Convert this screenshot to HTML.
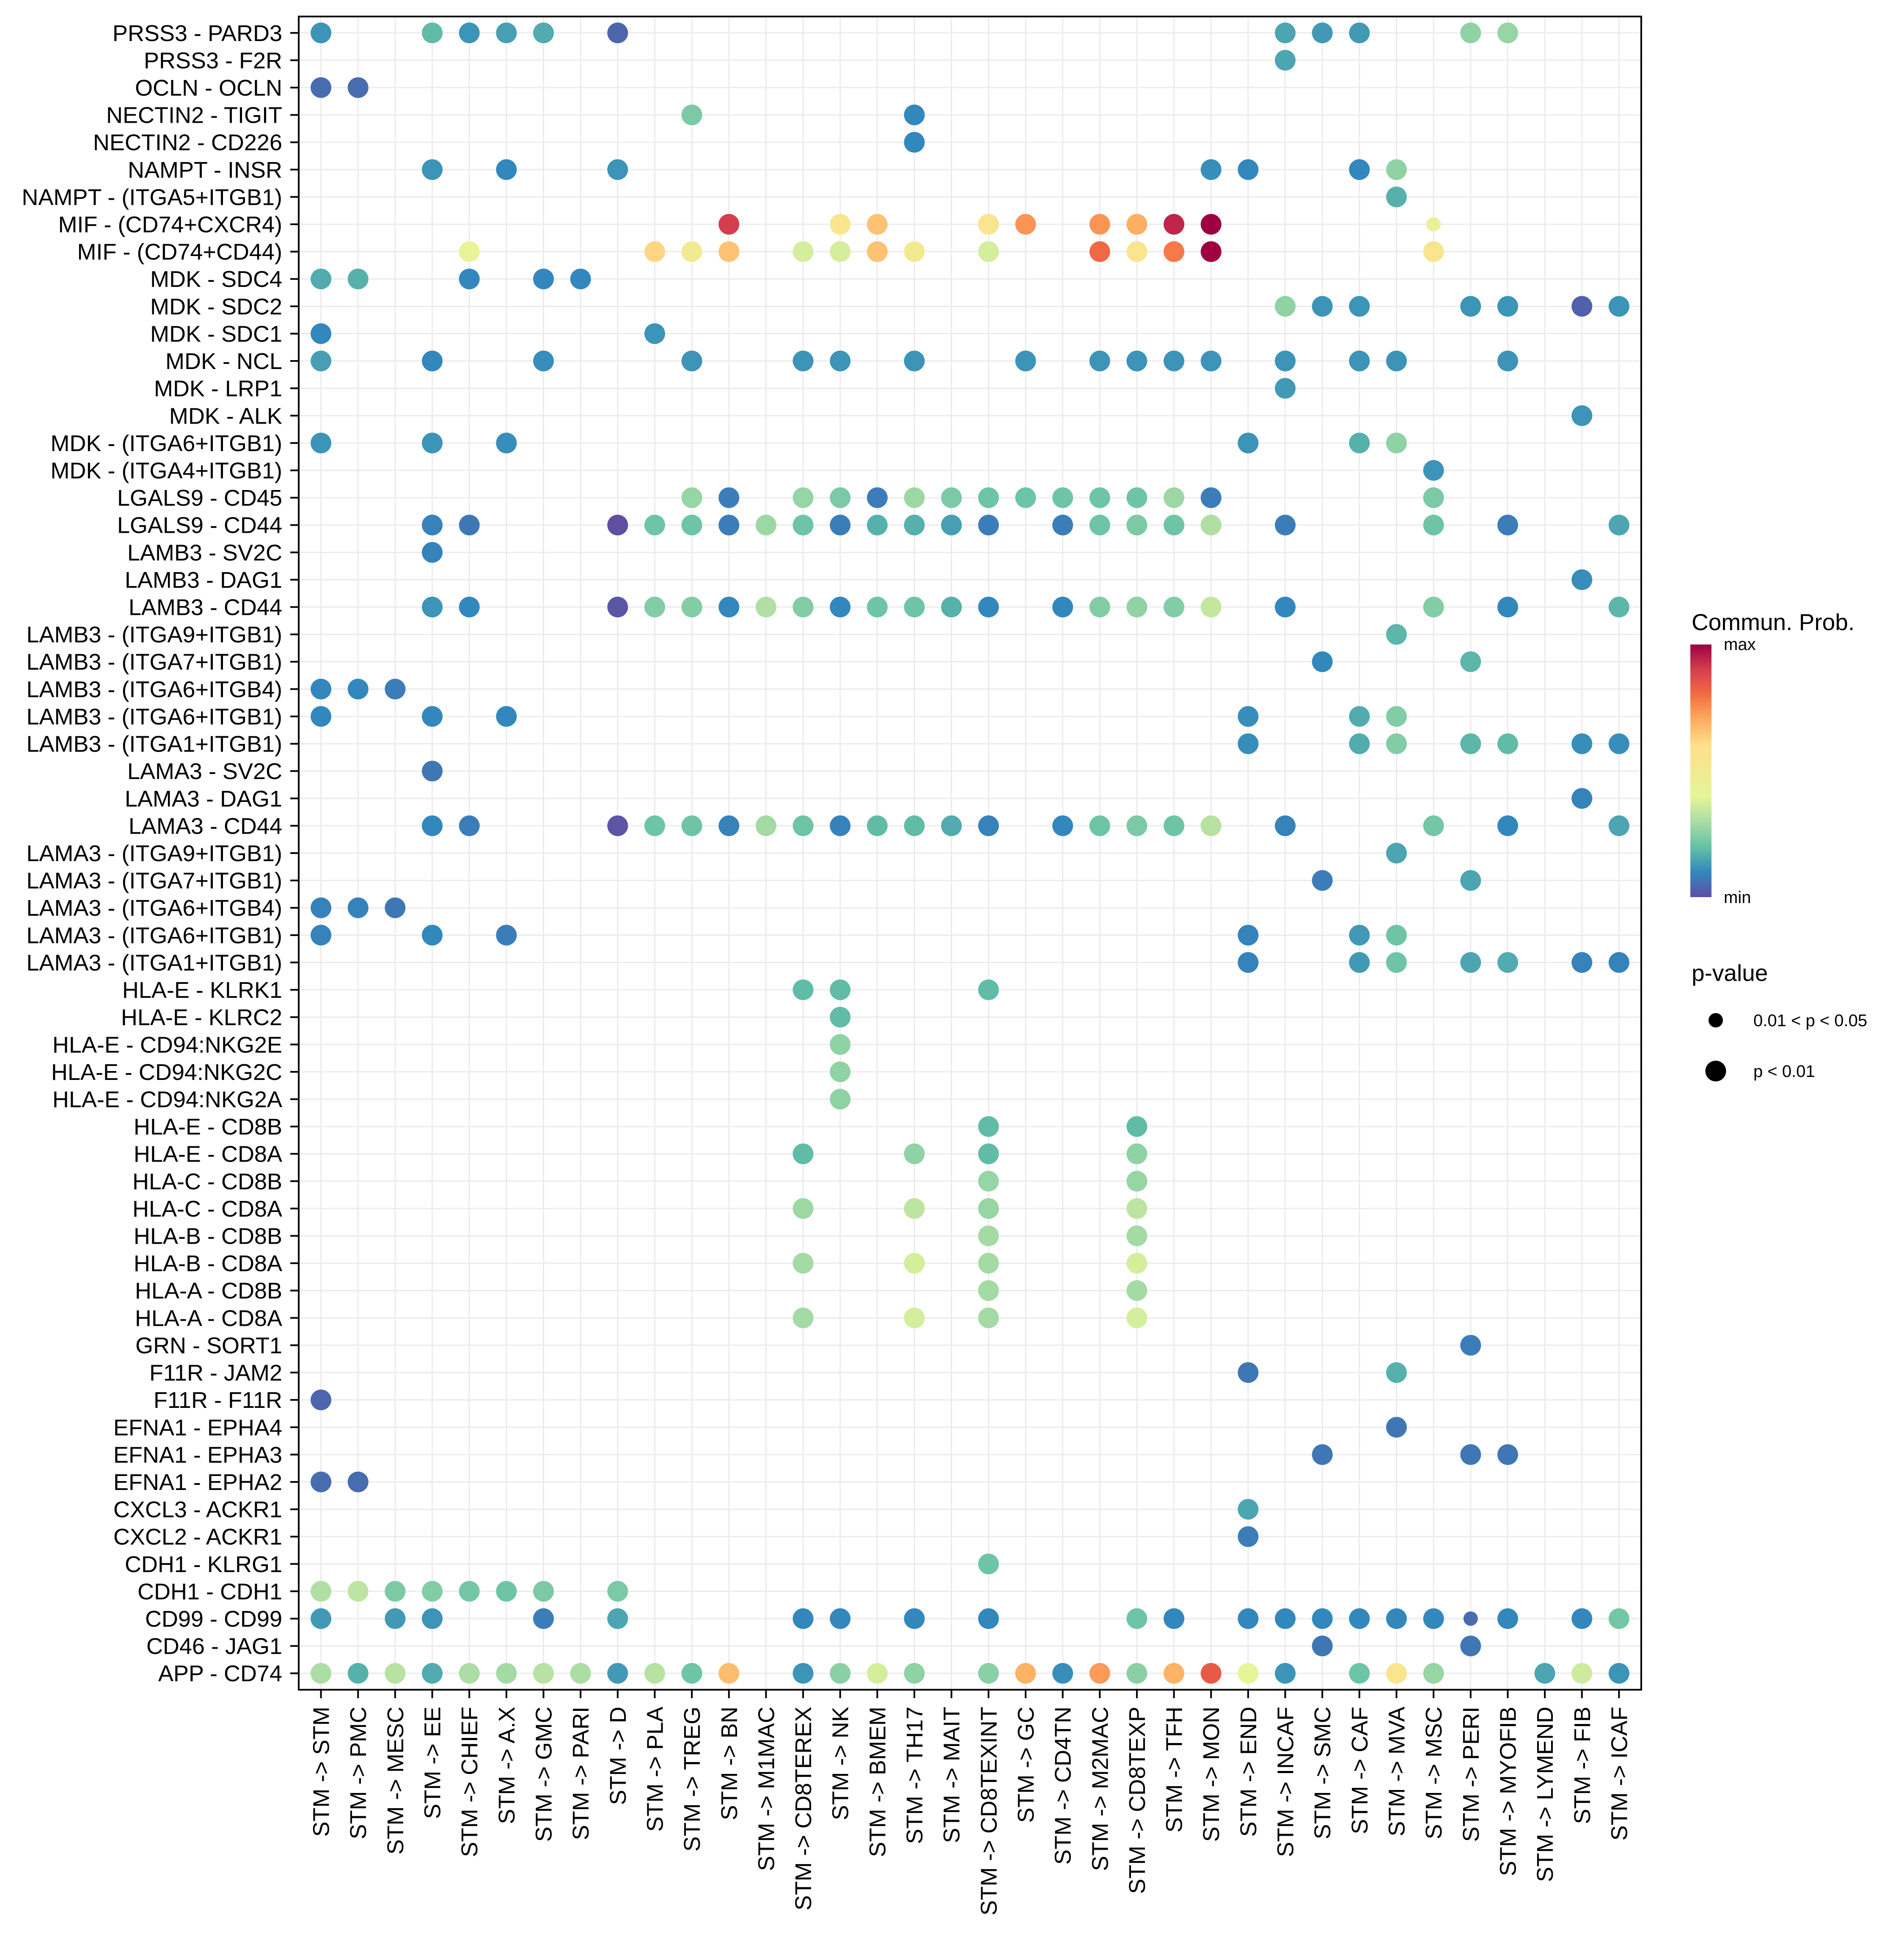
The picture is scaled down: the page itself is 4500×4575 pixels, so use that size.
<!DOCTYPE html>
<html><head><meta charset="utf-8">
<style>
html,body{margin:0;padding:0;background:#fff;}
svg{display:block;}
text{font-family:"Liberation Sans",sans-serif;}
</style></head>
<body>
<svg id="chart" xmlns="http://www.w3.org/2000/svg" width="4500" height="4575" viewBox="0 0 4500 4575">
<rect x="0" y="0" width="4500" height="4575" fill="#fff"/>
<g id="grid"></g>
<g id="dots"></g>
<rect x="706" y="39" width="3173" height="3954" fill="none" stroke="#000" stroke-width="4"/>
<g id="yaxis"></g>
<g id="xaxis"></g>
<g id="legend">
  <defs>
    <linearGradient id="spec" x1="0" y1="1" x2="0" y2="0">
      <stop offset="0" stop-color="#5E4FA2"/><stop offset="0.1" stop-color="#3288BD"/>
      <stop offset="0.2" stop-color="#66C2A5"/><stop offset="0.3" stop-color="#ABDDA4"/>
      <stop offset="0.4" stop-color="#E6F598"/><stop offset="0.5" stop-color="#F2EA91"/>
      <stop offset="0.6" stop-color="#FEE08B"/><stop offset="0.7" stop-color="#FDAE61"/>
      <stop offset="0.8" stop-color="#F46D43"/><stop offset="0.9" stop-color="#D53E4F"/>
      <stop offset="1" stop-color="#9E0142"/>
    </linearGradient>
  </defs>
  <text x="3998" y="1489" font-size="55">Commun. Prob.</text>
  <rect x="3995" y="1523" width="50" height="597" fill="url(#spec)"/>
  <text x="4074" y="1536" font-size="40">max</text>
  <text x="4074" y="2134" font-size="40">min</text>
  <text x="3998" y="2318" font-size="55">p-value</text>
  <circle cx="4055" cy="2411" r="17" fill="#000"/>
  <text x="4144" y="2425" font-size="40">0.01 &lt; p &lt; 0.05</text>
  <circle cx="4055" cy="2531" r="24.5" fill="#000"/>
  <text x="4144" y="2545" font-size="40">p &lt; 0.01</text>
</g>
</svg>
<script>
const pairLabels = ["PRSS3 - PARD3","PRSS3 - F2R","OCLN - OCLN","NECTIN2 - TIGIT","NECTIN2 - CD226","NAMPT - INSR","NAMPT - (ITGA5+ITGB1)","MIF - (CD74+CXCR4)","MIF - (CD74+CD44)","MDK - SDC4","MDK - SDC2","MDK - SDC1","MDK - NCL","MDK - LRP1","MDK - ALK","MDK - (ITGA6+ITGB1)","MDK - (ITGA4+ITGB1)","LGALS9 - CD45","LGALS9 - CD44","LAMB3 - SV2C","LAMB3 - DAG1","LAMB3 - CD44","LAMB3 - (ITGA9+ITGB1)","LAMB3 - (ITGA7+ITGB1)","LAMB3 - (ITGA6+ITGB4)","LAMB3 - (ITGA6+ITGB1)","LAMB3 - (ITGA1+ITGB1)","LAMA3 - SV2C","LAMA3 - DAG1","LAMA3 - CD44","LAMA3 - (ITGA9+ITGB1)","LAMA3 - (ITGA7+ITGB1)","LAMA3 - (ITGA6+ITGB4)","LAMA3 - (ITGA6+ITGB1)","LAMA3 - (ITGA1+ITGB1)","HLA-E - KLRK1","HLA-E - KLRC2","HLA-E - CD94:NKG2E","HLA-E - CD94:NKG2C","HLA-E - CD94:NKG2A","HLA-E - CD8B","HLA-E - CD8A","HLA-C - CD8B","HLA-C - CD8A","HLA-B - CD8B","HLA-B - CD8A","HLA-A - CD8B","HLA-A - CD8A","GRN - SORT1","F11R - JAM2","F11R - F11R","EFNA1 - EPHA4","EFNA1 - EPHA3","EFNA1 - EPHA2","CXCL3 - ACKR1","CXCL2 - ACKR1","CDH1 - KLRG1","CDH1 - CDH1","CD99 - CD99","CD46 - JAG1","APP - CD74"];
const targetLabels = ["STM","PMC","MESC","EE","CHIEF","A.X","GMC","PARI","D","PLA","TREG","BN","M1MAC","CD8TEREX","NK","BMEM","TH17","MAIT","CD8TEXINT","GC","CD4TN","M2MAC","CD8TEXP","TFH","MON","END","INCAF","SMC","CAF","MVA","MSC","PERI","MYOFIB","LYMEND","FIB","ICAF"];
// [row, col, prob(0-1 scaled), pcat: 1 = p<0.01, 2 = 0.01<p<0.05]
const cells = [
[0,0,.12,1],[0,3,.19,1],[0,4,.12,1],[0,5,.14,1],[0,6,.16,1],[0,8,.04,1],[0,26,.15,1],[0,27,.13,1],[0,28,.13,1],[0,31,.26,1],[0,32,.27,1],
[1,26,.15,1],
[2,0,.05,1],[2,1,.05,1],
[3,10,.23,1],[3,16,.10,1],
[4,16,.10,1],
[5,3,.12,1],[5,5,.10,1],[5,8,.12,1],[5,24,.11,1],[5,25,.10,1],[5,28,.10,1],[5,29,.26,1],
[6,29,.17,1],
[7,11,.90,1],[7,14,.55,1],[7,15,.66,1],[7,18,.55,1],[7,19,.74,1],[7,21,.74,1],[7,22,.70,1],[7,23,.94,1],[7,24,1.0,1],[7,30,.45,2],
[8,4,.41,1],[8,9,.62,1],[8,10,.50,1],[8,11,.66,1],[8,13,.37,1],[8,14,.37,1],[8,15,.66,1],[8,16,.50,1],[8,18,.37,1],[8,21,.81,1],[8,22,.55,1],[8,23,.78,1],[8,24,1.0,1],[8,30,.55,1],
[9,0,.16,1],[9,1,.17,1],[9,4,.10,1],[9,6,.10,1],[9,7,.10,1],
[10,26,.26,1],[10,27,.12,1],[10,28,.12,1],[10,31,.12,1],[10,32,.12,1],[10,34,.03,1],[10,35,.12,1],
[11,0,.10,1],[11,9,.12,1],
[12,0,.14,1],[12,3,.10,1],[12,6,.11,1],[12,10,.12,1],[12,13,.12,1],[12,14,.12,1],[12,16,.12,1],[12,19,.12,1],[12,21,.12,1],[12,22,.12,1],[12,23,.12,1],[12,24,.12,1],[12,26,.12,1],[12,28,.12,1],[12,29,.12,1],[12,32,.12,1],
[13,26,.13,1],
[14,34,.12,1],
[15,0,.12,1],[15,3,.12,1],[15,5,.11,1],[15,25,.12,1],[15,28,.17,1],[15,29,.26,1],
[16,30,.12,1],
[17,10,.27,1],[17,11,.08,1],[17,13,.27,1],[17,14,.23,1],[17,15,.08,1],[17,16,.28,1],[17,17,.23,1],[17,18,.21,1],[17,19,.21,1],[17,20,.21,1],[17,21,.21,1],[17,22,.21,1],[17,23,.28,1],[17,24,.08,1],[17,30,.23,1],
[18,3,.09,1],[18,4,.07,1],[18,8,0,1],[18,9,.21,1],[18,10,.21,1],[18,11,.08,1],[18,12,.28,1],[18,13,.21,1],[18,14,.08,1],[18,15,.17,1],[18,16,.17,1],[18,17,.14,1],[18,18,.08,1],[18,20,.08,1],[18,21,.21,1],[18,22,.23,1],[18,23,.21,1],[18,24,.31,1],[18,26,.08,1],[18,30,.21,1],[18,32,.08,1],[18,35,.15,1],
[19,3,.09,1],
[20,34,.11,1],
[21,3,.12,1],[21,4,.10,1],[21,8,.01,1],[21,9,.24,1],[21,10,.24,1],[21,11,.10,1],[21,12,.31,1],[21,13,.24,1],[21,14,.10,1],[21,15,.21,1],[21,16,.21,1],[21,17,.17,1],[21,18,.10,1],[21,20,.10,1],[21,21,.24,1],[21,22,.26,1],[21,23,.24,1],[21,24,.34,1],[21,26,.10,1],[21,30,.24,1],[21,32,.10,1],[21,35,.18,1],
[22,29,.18,1],
[23,27,.10,1],[23,31,.18,1],
[24,0,.10,1],[24,1,.10,1],[24,2,.08,1],
[25,0,.10,1],[25,3,.10,1],[25,5,.10,1],[25,25,.11,1],[25,28,.16,1],[25,29,.24,1],
[26,25,.11,1],[26,28,.16,1],[26,29,.24,1],[26,31,.18,1],[26,32,.19,1],[26,34,.11,1],[26,35,.11,1],
[27,3,.07,1],
[28,34,.09,1],
[29,3,.10,1],[29,4,.08,1],[29,8,.01,1],[29,9,.21,1],[29,10,.21,1],[29,11,.09,1],[29,12,.29,1],[29,13,.21,1],[29,14,.09,1],[29,15,.19,1],[29,16,.19,1],[29,17,.16,1],[29,18,.09,1],[29,20,.10,1],[29,21,.21,1],[29,22,.23,1],[29,23,.21,1],[29,24,.32,1],[29,26,.09,1],[29,30,.22,1],[29,32,.10,1],[29,35,.15,1],
[30,29,.15,1],
[31,27,.08,1],[31,31,.15,1],
[32,0,.09,1],[32,1,.09,1],[32,2,.07,1],
[33,0,.09,1],[33,3,.10,1],[33,5,.08,1],[33,25,.09,1],[33,28,.13,1],[33,29,.21,1],
[34,25,.09,1],[34,28,.13,1],[34,29,.21,1],[34,31,.15,1],[34,32,.16,1],[34,34,.09,1],[34,35,.09,1],
[35,13,.19,1],[35,14,.19,1],[35,18,.19,1],
[36,14,.19,1],
[37,14,.26,1],[38,14,.26,1],[39,14,.26,1],
[40,18,.19,1],[40,22,.19,1],
[41,13,.19,1],[41,16,.26,1],[41,18,.19,1],[41,22,.26,1],
[42,18,.27,1],[42,22,.27,1],
[43,13,.28,1],[43,16,.33,1],[43,18,.27,1],[43,22,.33,1],
[44,18,.29,1],[44,22,.29,1],
[45,13,.29,1],[45,16,.37,1],[45,18,.29,1],[45,22,.37,1],
[46,18,.29,1],[46,22,.29,1],
[47,13,.29,1],[47,16,.37,1],[47,18,.29,1],[47,22,.37,1],
[48,31,.08,1],
[49,25,.07,1],[49,29,.17,1],
[50,0,.04,1],
[51,29,.07,1],
[52,27,.07,1],[52,31,.07,1],[52,32,.07,1],
[53,0,.05,1],[53,1,.05,1],
[54,25,.15,1],
[55,25,.08,1],
[56,18,.21,1],
[57,0,.31,1],[57,1,.33,1],[57,2,.23,1],[57,3,.24,1],[57,4,.22,1],[57,5,.21,1],[57,6,.23,1],[57,8,.23,1],
[58,0,.13,1],[58,2,.13,1],[58,3,.12,1],[58,6,.08,1],[58,8,.15,1],[58,13,.10,1],[58,14,.10,1],[58,16,.10,1],[58,18,.10,1],[58,22,.21,1],[58,23,.10,1],[58,25,.10,1],[58,26,.10,1],[58,27,.10,1],[58,28,.10,1],[58,29,.10,1],[58,30,.10,1],[58,31,.05,2],[58,32,.10,1],[58,34,.10,1],[58,35,.22,1],
[59,27,.07,1],[59,31,.07,1],
[60,0,.30,1],[60,1,.17,1],[60,2,.32,1],[60,3,.16,1],[60,4,.30,1],[60,5,.29,1],[60,6,.32,1],[60,7,.30,1],[60,8,.13,1],[60,9,.32,1],[60,10,.21,1],[60,11,.67,1],[60,13,.12,1],[60,14,.25,1],[60,15,.37,1],[60,16,.26,1],[60,18,.25,1],[60,19,.69,1],[60,20,.11,1],[60,21,.73,1],[60,22,.25,1],[60,23,.69,1],[60,24,.84,1],[60,25,.40,1],[60,26,.12,1],[60,28,.21,1],[60,29,.55,1],[60,30,.27,1],[60,33,.15,1],[60,34,.36,1],[60,35,.12,1]
];
const palette = ["#5E4FA2","#3288BD","#66C2A5","#ABDDA4","#E6F598","#F2EA91","#FEE08B","#FDAE61","#F46D43","#D53E4F","#9E0142"];

const NS = "http://www.w3.org/2000/svg";
const P = {left:706, top:39, right:3879, bottom:3993};
const colStep = (P.right - P.left) / (targetLabels.length - 1 + 1.2);
const rowStep = (P.bottom - P.top) / (pairLabels.length - 1 + 1.2);
function xPos(c){ return P.left + colStep*0.6 + c*colStep; }
function yPos(r){ return P.top + rowStep*0.6 + r*rowStep; }
function hex(h){ return [1,3,5].map(i=>parseInt(h.substr(i,2),16)); }
function colorOf(v){
  v = Math.max(0, Math.min(1, v));
  const t = v*(palette.length-1), i = Math.min(Math.floor(t), palette.length-2), f = t - i;
  const a = hex(palette[i]), b = hex(palette[i+1]);
  return "rgb(" + a.map((x,k)=>Math.round(x+(b[k]-x)*f)).join(",") + ")";
}
function mk(tag, attrs, parent){ const e=document.createElementNS(NS,tag); for(const k in attrs) e.setAttribute(k,attrs[k]); parent.appendChild(e); return e; }

const grid = document.getElementById("grid");
const dots = document.getElementById("dots");
const yaxis = document.getElementById("yaxis");
const xaxis = document.getElementById("xaxis");

pairLabels.forEach((lab, r) => {
  const y = yPos(r);
  const gl = mk("line", {x1:P.left, x2:P.right, y1:y, y2:y, stroke:"#ebebeb", "stroke-width":3}, grid);
  
  
  const tk = mk("line", {x1:P.left-20, x2:P.left, y1:y, y2:y, stroke:"#000", "stroke-width":4}, yaxis);
  
  
  const t = mk("text", {x:P.left-39, y:y+19, "font-size":54, "text-anchor":"end", fill:"#000"}, yaxis);
  t.textContent = lab;
  
  
});
targetLabels.forEach((lab, c) => {
  const x = xPos(c);
  const gl = mk("line", {x1:x, x2:x, y1:P.top, y2:P.bottom, stroke:"#ebebeb", "stroke-width":3}, grid);
  
  
  const tk = mk("line", {x1:x, x2:x, y1:P.bottom, y2:P.bottom+20, stroke:"#000", "stroke-width":4}, xaxis);
  
  
  const t = mk("text", {x:0, y:0, "font-size":54, "text-anchor":"end", fill:"#000", transform:"translate(" + (x+19) + "," + (P.bottom+40) + ") rotate(-90)"}, xaxis);
  t.textContent = "STM -> " + lab;
  
  
});
cells.forEach(d => {
  const c = mk("circle", {cx:xPos(d[1]), cy:yPos(d[0]), r:(d[3]===1?24.5:17), fill:colorOf(d[2])}, dots);
  
  
});
</script>
</body></html>
